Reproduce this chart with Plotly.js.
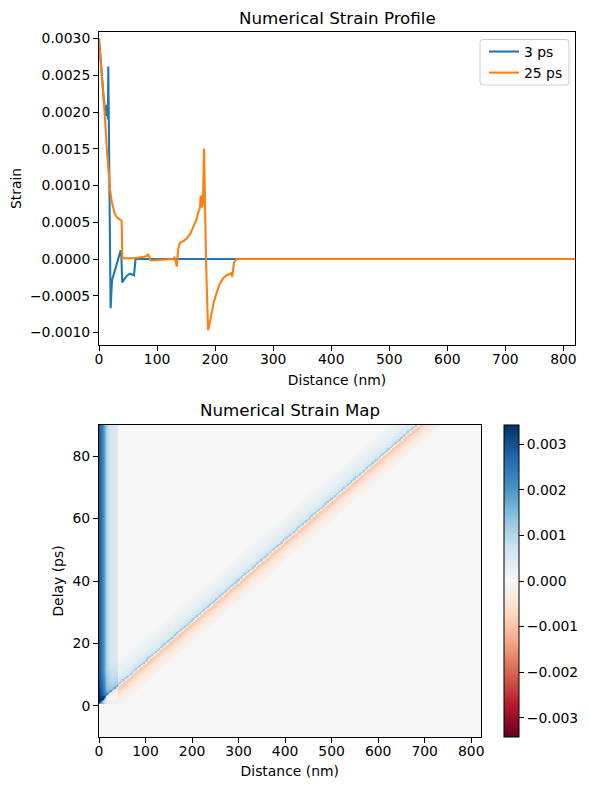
<!DOCTYPE html>
<html><head><meta charset="utf-8">
<script src="https://cdn.plot.ly/plotly-3.0.1.min.js"></script>
<style>html,body{margin:0;padding:0;background:#fff}</style></head>
<body><div id="chart" style="width:589px;height:790px"></div>
<script>
// Line series
const distance3ps = [0,2,5,8,10.3,12,14,15.3,16,16.6,17.2,17.8,20,22.4,30,37.4,38.5,40,44.8,49,53.4,60.3,63,100,820];
const strain3ps   = [0.003,0.00278,0.0025,0.0022,0.00205,0.00195,0.0021,0.0019,0.00262,0.0019,0.00262,0.0018,-0.00067,-0.00029,-0.00008,0.00012,0.00005,-0.00032,-0.00026,-0.00022,-0.0002,-0.00022,0,0,0];
const distance25ps = [0,1.7,4,7.5,10,13.2,16,19,22,24.7,27,30.4,35,39,40.2,60,78,82,84,86,89,110,127,130,132,134,136.5,139.5,145,151,157,162,167,171,174,175,176,177.4,179,181,182,183,184.3,186,187.9,190,194,198,202.6,208,213.8,220,225.6,228,229.6,232.5,237,300,820];
const strain25ps   = [0.003,0.00283,0.0026,0.0023,0.00195,0.00153,0.00122,0.00094,0.00078,0.00067,0.00062,0.00057,0.00054,0.00052,0.00001,0.00001,0.00003,0.00004,0.00006,0.00004,-0.00002,-0.00001,0,0.00002,-0.00003,-0.0001,0.00014,0.00022,0.00024,0.00028,0.00034,0.00042,0.00052,0.00063,0.0007,0.00085,0.00085,0.0007,0.00075,0.0015,0.0012,0.0006,0,-0.0006,-0.00097,-0.0009,-0.00074,-0.00058,-0.00046,-0.00034,-0.00026,-0.00022,-0.0002,-0.00019,-0.00024,-0.00005,0,0,0];

// Strain map rebuilt from profiles:
// a surface-layer strain, plus a travelling pulse (offset from the front) along the front line.
const layerDistance = [0,1.7,4,7.5,10,13.2,16,19,22,24.7,27,30.4,35,39,40.2,820];
const layerStrain   = [0.003,0.00283,0.0026,0.0023,0.00195,0.00153,0.00122,0.00094,0.00078,0.00067,0.00062,0.00057,0.00054,0.00052,0,0];
const pulseOffset = [-70,-60,-52,-45,-39,-33,-27,-22,-17,-13,-9,-7,-6,-2,-1,0.5,3,6,10,14,18,24,30,36,41,43,46,50,53,60];
const pulseStrain = [0,0.00006,0.00016,0.00022,0.00024,0.00028,0.00034,0.00042,0.00048,0.00055,0.00065,0.0008,0.0012,0.0012,0.0005,0,-0.0008,-0.00095,-0.00085,-0.00072,-0.00056,-0.00044,-0.00032,-0.00024,-0.0002,-0.00022,-0.00012,-0.00005,0,0];
const frontSpeed = 7.69, frontStart = 0.85;
const mapDistanceStep = 2, mapDelayStep = 0.5;

const colorStops = ['#67001f','#b2182b','#d6604d','#f4a582','#fddbc7','#f7f7f7','#d1e5f0','#92c5de','#4393c3','#2166ac','#053061'];
const yTicks1 = [-0.001,-0.0005,0,0.0005,0.001,0.0015,0.002,0.0025,0.003];
const xTicks = [0,100,200,300,400,500,600,700,800];
const yTicks2 = [0,20,40,60,80];
const barTicks = [-0.003,-0.002,-0.001,0,0.001,0.002,0.003];

function lookup(xs, ys, v){
  if (v <= xs[0]) return ys[0];
  if (v >= xs[xs.length-1]) return ys[ys.length-1];
  let i = 1; while (xs[i] < v) i++;
  return ys[i-1] + (ys[i]-ys[i-1])*(v-xs[i-1])/(xs[i]-xs[i-1]);
}
const mapX = [], mapY = [], mapZ = [];
for (let x = 1; x < 820; x += mapDistanceStep) mapX.push(x);
for (let t = -10 + mapDelayStep/2; t < 90; t += mapDelayStep) mapY.push(t);
for (const t of mapY) {
  const front = frontSpeed*(t-frontStart);
  mapZ.push(mapX.map(x => {
    if (t < frontStart - 0.5) return 0;
    const u = x - front;
    const layer = lookup(layerDistance, layerStrain, x);
    return layer + lookup(pulseOffset, pulseStrain, u);
  }));
}

const W=589,H=790;
const font={family:'"DejaVu Sans",sans-serif',size:13.9,color:'#000'};
const ax={showgrid:false,zeroline:false,showline:true,mirror:true,linecolor:'#000',linewidth:1,ticks:'outside',ticklen:5,tickwidth:1,tickcolor:'#000',tickfont:font,automargin:false};
const traces=[
 {type:'scatter',mode:'lines',x:distance3ps,y:strain3ps,name:'3 ps',line:{color:'#1f77b4',width:2.08},xaxis:'x',yaxis:'y'},
 {type:'scatter',mode:'lines',x:distance25ps,y:strain25ps,name:'25 ps',line:{color:'#ff7f0e',width:2.08},xaxis:'x',yaxis:'y'},
 {type:'heatmap',x:mapX,y:mapY,z:mapZ,zmin:-0.00342,zmax:0.00342,zsmooth:false,xaxis:'x2',yaxis:'y2',showlegend:false,
  colorscale:colorStops.map((c,i)=>[i/10,c]),
  colorbar:{x:504/W,xanchor:'left',xpad:0,y:1-737/H,yanchor:'bottom',ypad:0,len:312,lenmode:'pixels',thickness:15,thicknessmode:'pixels',outlinewidth:1,outlinecolor:'#000',
    tickmode:'array',tickvals:barTicks,ticktext:barTicks.map(v=>(v<0?'\u2212':'')+Math.abs(v).toFixed(3)),ticks:'outside',ticklen:5,tickwidth:1,tickcolor:'#000',tickfont:font}}
];
// Rounded legend frame, in paper coordinates
const bx0=480/W,bx1=569/W,by0=1-85/H,by1=1-39.5/H,rx=3/W,ry=3/H;
const framePath=`M ${bx0+rx} ${by0} L ${bx1-rx} ${by0} Q ${bx1} ${by0} ${bx1} ${by0+ry} L ${bx1} ${by1-ry} Q ${bx1} ${by1} ${bx1-rx} ${by1} L ${bx0+rx} ${by1} Q ${bx0} ${by1} ${bx0} ${by1-ry} L ${bx0} ${by0+ry} Q ${bx0} ${by0} ${bx0+rx} ${by0} Z`;
const layout={width:W,height:H,margin:{l:0,r:0,t:0,b:0},paper_bgcolor:'#fff',plot_bgcolor:'#fff',font:font,
 xaxis:Object.assign({},ax,{domain:[99/W,575/W],range:[0,820],tickvals:xTicks,ticklabelstandoff:-4,title:{text:'Distance (nm)',font:font,standoff:9},anchor:'y'}),
 yaxis:Object.assign({},ax,{domain:[1-345/H,1-32/H],range:[-0.00117,0.00309],tickvals:yTicks1,tickformat:'.4f',title:{text:'Strain',font:font,standoff:5},anchor:'x'}),
 xaxis2:Object.assign({},ax,{domain:[99/W,480.5/W],range:[0,820],tickvals:xTicks,ticklabelstandoff:-4,title:{text:'Distance (nm)',font:font,standoff:8},anchor:'y2'}),
 yaxis2:Object.assign({},ax,{domain:[1-737/H,1-425/H],range:[-10,90],tickvals:yTicks2,title:{text:'Delay (ps)',font:font,standoff:5},anchor:'x2'}),
 legend:{x:484/W,xanchor:'left',y:1-36/H,yanchor:'top',bgcolor:'rgba(0,0,0,0)',borderwidth:0,font:font},
 shapes:[{type:'path',path:framePath,xref:'paper',yref:'paper',fillcolor:'rgba(255,255,255,0.8)',line:{color:'#cccccc',width:1},layer:'above'}],
 annotations:[
  {text:'Numerical Strain Profile',xref:'paper',yref:'paper',x:337/W,y:1-18/H,xanchor:'center',yanchor:'middle',showarrow:false,font:{family:font.family,size:16.67,color:'#000'}},
  {text:'Numerical Strain Map',xref:'paper',yref:'paper',x:289.5/W,y:1-410/H,xanchor:'center',yanchor:'middle',showarrow:false,font:{family:font.family,size:16.67,color:'#000'}}
 ]};
Plotly.newPlot('chart',traces,layout,{displayModeBar:false,staticPlot:true});
</script></body></html>
